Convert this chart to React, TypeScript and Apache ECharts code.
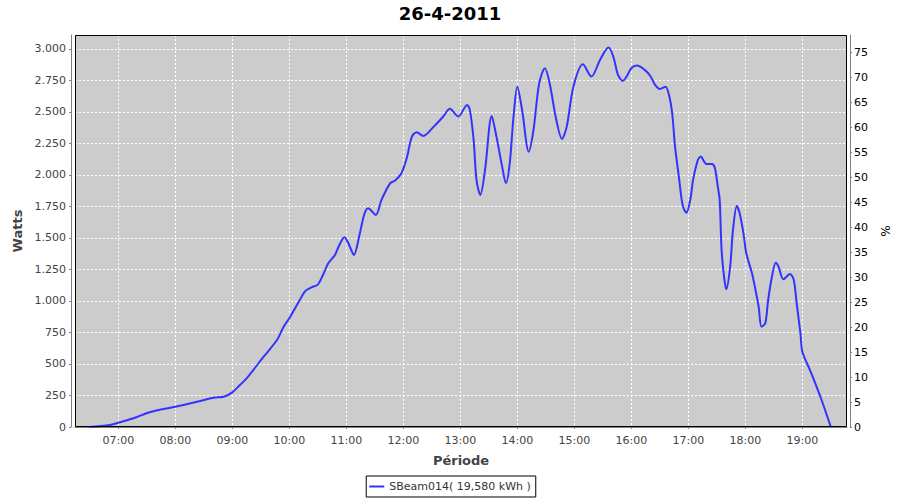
import React, { useEffect, useRef } from "react";
import * as echarts from "echarts";

const TITLE = "26-4-2011";
const SERIES_NAME = "SBeam014( 19,580 kWh )";
const X_NAME = "Période";
const Y_NAME = "Watts";
const Y2_NAME = "%";

const X_MIN = "06:14:24";
const X_MAX = "19:47:00";
const WATT_MAX = 3111;
const WATT_STEP = 250;
const PCT_MAX = 78.55;
const PCT_STEP = 5;

const times = [
  "06:30", "06:51", "07:00", "07:16", "07:33", "08:00", "08:26", "08:40", "08:51", "09:00",
  "09:08", "09:15", "09:33", "09:47", "09:54", "10:00", "10:11", "10:17", "10:24", "10:30",
  "10:35", "10:41", "10:48", "10:53", "10:58", "11:02", "11:06", "11:08", "11:14", "11:19",
  "11:23", "11:31", "11:37", "11:46", "11:51", "11:58", "12:04", "12:09", "12:14", "12:21",
  "12:32", "12:42", "12:49", "12:58", "13:07", "13:10", "13:14", "13:17", "13:21", "13:26",
  "13:33", "13:38", "13:44", "13:48", "13:52", "13:56", "14:00", "14:05", "14:12", "14:17",
  "14:23", "14:29", "14:34", "14:41", "14:47", "14:52", "14:59", "15:09", "15:18", "15:27",
  "15:36", "15:41", "15:46", "15:51", "15:55", "16:00", "16:06", "16:14", "16:20", "16:25",
  "16:30", "16:36", "16:40", "16:43", "16:46", "16:50", "16:53", "16:55", "16:58", "17:02",
  "17:05", "17:10", "17:13", "17:19", "17:25", "17:28", "17:31", "17:33", "17:35", "17:38",
  "17:40", "17:44", "17:47", "17:51", "17:54", "17:58", "18:01", "18:07", "18:10", "18:14",
  "18:17", "18:21", "18:24", "18:28", "18:32", "18:35", "18:40", "18:47", "18:51", "18:54",
  "18:58", "19:00", "19:08", "19:19", "19:30",
];

const watts = [
  0, 15, 34, 69, 117, 161, 206, 233, 240, 275,
  333, 386, 558, 690, 796, 863, 1008, 1080, 1110, 1130,
  1200, 1300, 1365, 1450, 1505, 1460, 1390, 1365, 1530, 1690,
  1736, 1683, 1802, 1934, 1955, 2014, 2146, 2305, 2339, 2310,
  2384, 2464, 2525, 2464, 2556, 2517, 2278, 1961, 1842, 2040,
  2468, 2305, 2066, 1934, 2093, 2464, 2701, 2516, 2185, 2357,
  2728, 2847, 2728, 2437, 2286, 2384, 2701, 2879, 2781, 2913,
  3011, 2940, 2794, 2746, 2781, 2847, 2868, 2834, 2786, 2715,
  2683, 2701, 2622, 2490, 2225, 1987, 1802, 1736, 1701, 1802,
  1961, 2119, 2146, 2088, 2088, 2054, 1908, 1802, 1405, 1167,
  1093, 1272, 1564, 1754, 1696, 1537, 1379, 1220, 1114, 955,
  796, 823, 1008, 1193, 1304, 1272, 1172, 1214, 1167, 982,
  744, 598, 452, 240, 0,
];

const FONT = "DejaVu Sans";
const LINE_COLOR = "#3333ff";

function ts(hm: string): number {
  const [h, m, s] = hm.split(":").map(Number);
  return Date.UTC(2011, 3, 26, h, m, s || 0);
}

function thousands(v: number): string {
  return String(Math.round(v)).replace(/\B(?=(\d{3})+(?!\d))/g, ".");
}

export default function App() {
  const ref = useRef<HTMLDivElement>(null);

  useEffect(() => {
    if (!ref.current) return;
    const chart = echarts.init(ref.current, undefined, { renderer: "svg" });
    const axisLineStyle = { color: "#808080", width: 1 };
    const labelStyle = { color: "#444444", fontSize: 11, fontFamily: FONT };
    const nameStyle = { color: "#444444", fontSize: 13, fontWeight: "bold" as const, fontFamily: FONT };

    chart.setOption({
      animation: false,
      useUTC: true,
      backgroundColor: "#ffffff",
      title: {
        text: TITLE,
        left: "center",
        top: -1,
        textStyle: { fontFamily: FONT, fontSize: 18, fontWeight: "bold", color: "#000000" },
      },
      legend: {
        data: [{ name: SERIES_NAME, icon: "rect" }],
        left: "center",
        top: 476,
        itemWidth: 15,
        itemHeight: 2,
        padding: [5, 5, 5, 3],
        borderColor: "#000000",
        borderWidth: 1,
        textStyle: { fontFamily: FONT, fontSize: 11, color: "#333333" },
      },
      grid: {
        left: 75,
        right: 53,
        top: 35,
        bottom: 73,
        show: true,
        backgroundColor: "#cccccc",
        borderWidth: 0,
        containLabel: false,
      },
      graphic: [
        {
          type: "rect",
          silent: true,
          z: 50,
          shape: { x: 75.5, y: 35.5, width: 771, height: 391 },
          style: { fill: "none", stroke: "#000000", lineWidth: 1 },
        },
      ],
      xAxis: {
        type: "time",
        min: ts(X_MIN),
        max: ts(X_MAX),
        splitNumber: 14,
        offset: 3,
        name: X_NAME,
        nameLocation: "middle",
        nameGap: 24,
        nameTextStyle: nameStyle,
        axisLine: { show: true, lineStyle: axisLineStyle },
        axisTick: { show: true, length: 2, lineStyle: axisLineStyle },
        axisLabel: {
          ...labelStyle,
          formatter: "{HH}:{mm}",
          margin: 5,
          showMinLabel: false,
          showMaxLabel: false,
        },
        splitLine: { show: true, lineStyle: { color: "#ffffff", type: [2, 2], width: 1 } },
        minorTick: { show: false },
        minorSplitLine: { show: false },
      },
      yAxis: [
        {
          type: "value",
          position: "left",
          min: 0,
          max: WATT_MAX,
          interval: WATT_STEP,
          offset: 4,
          name: Y_NAME,
          nameLocation: "middle",
          nameGap: 44,
          nameTextStyle: nameStyle,
          axisLine: { show: true, lineStyle: axisLineStyle },
          axisTick: { show: true, length: 2, lineStyle: axisLineStyle },
          axisLabel: { ...labelStyle, margin: 5, showMaxLabel: false, formatter: (v: number) => thousands(v) },
          splitLine: { show: true, lineStyle: { color: "#ffffff", type: [2, 2], width: 1 } },
        },
        {
          type: "value",
          position: "right",
          min: 0,
          max: PCT_MAX,
          interval: PCT_STEP,
          offset: 3,
          name: Y2_NAME,
          nameLocation: "middle",
          nameGap: 24,
          nameRotate: -90,
          nameTextStyle: { color: "#000000", fontSize: 12, fontFamily: FONT },
          axisLine: { show: true, lineStyle: axisLineStyle },
          axisTick: { show: true, length: 2, lineStyle: axisLineStyle },
          axisLabel: { ...labelStyle, color: "#000000", margin: 4, showMaxLabel: false },
          splitLine: { show: false },
        },
      ],
      series: [
        {
          name: SERIES_NAME,
          type: "line",
          yAxisIndex: 0,
          data: times.map((t, i) => [ts(t), watts[i]]),
          symbol: "none",
          smooth: 0.3,
          color: LINE_COLOR,
          lineStyle: { color: LINE_COLOR, width: 2 },
        },
      ],
    });

    return () => chart.dispose();
  }, []);

  return (
    <div
      ref={ref}
      style={{ position: "fixed", left: 0, top: 0, width: 900, height: 500 }}
    />
  );
}
